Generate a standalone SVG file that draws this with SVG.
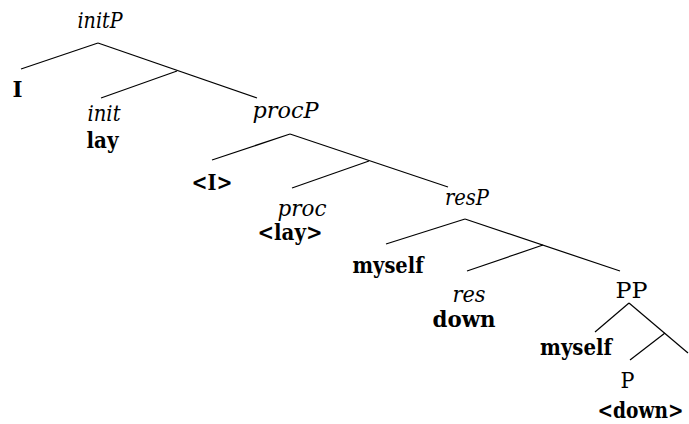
<svg xmlns="http://www.w3.org/2000/svg" width="689" height="424" viewBox="0 0 689 424">
<style>
text{font-family:'DejaVu Serif Condensed','DejaVu Serif',serif;font-size:23px;fill:#000;text-anchor:middle}
.i{font-style:italic}
.b{font-weight:bold}
#edges line{stroke:#000;stroke-width:1.2}
</style>
<rect width="689" height="424" fill="#fff"/>
<g id="edges">
<line x1="98" y1="43" x2="21" y2="69"/>
<line x1="98" y1="43" x2="257" y2="98"/>
<line x1="177" y1="71" x2="101" y2="98"/>
<line x1="290" y1="134" x2="212" y2="160"/>
<line x1="290" y1="134" x2="448" y2="187"/>
<line x1="369" y1="161" x2="292" y2="188"/>
<line x1="465" y1="219" x2="386" y2="244"/>
<line x1="465" y1="219" x2="620" y2="271"/>
<line x1="543" y1="245" x2="467" y2="271"/>
<line x1="629" y1="303" x2="595" y2="332"/>
<line x1="629" y1="303" x2="688" y2="353"/>
<line x1="665" y1="333" x2="630" y2="360"/>
</g>
<g id="initP"><text class="i" x="100" y="28" textLength="45" lengthAdjust="spacingAndGlyphs">initP</text></g>
<g id="I"><text class="b" x="17.5" y="97" textLength="10" lengthAdjust="spacingAndGlyphs">I</text></g>
<g id="init"><text class="i" x="104" y="121" textLength="33" lengthAdjust="spacingAndGlyphs">init</text><text class="b" x="102.5" y="148" textLength="32" lengthAdjust="spacingAndGlyphs">lay</text></g>
<g id="procP"><text class="i" x="285.5" y="118" textLength="66" lengthAdjust="spacingAndGlyphs">procP</text></g>
<g id="I2"><text class="b" x="212" y="190" textLength="41" lengthAdjust="spacingAndGlyphs">&lt;I&gt;</text></g>
<g id="proc"><text class="i" x="302" y="216" textLength="49" lengthAdjust="spacingAndGlyphs">proc</text><text class="b" x="290" y="240" textLength="65" lengthAdjust="spacingAndGlyphs">&lt;lay&gt;</text></g>
<g id="resP"><text class="i" x="467" y="205" textLength="44" lengthAdjust="spacingAndGlyphs">resP</text></g>
<g id="myself"><text class="b" x="388" y="273" textLength="71" lengthAdjust="spacingAndGlyphs">myself</text></g>
<g id="res"><text class="i" x="469" y="302" textLength="33" lengthAdjust="spacingAndGlyphs">res</text><text class="b" x="464" y="327" textLength="63" lengthAdjust="spacingAndGlyphs">down</text></g>
<g id="PP"><text x="631.5" y="298" textLength="32" lengthAdjust="spacingAndGlyphs">PP</text></g>
<g id="myself2"><text class="b" x="576" y="355" textLength="72" lengthAdjust="spacingAndGlyphs">myself</text></g>
<g id="P"><text x="627.5" y="388">P</text><text class="b" x="640.5" y="418" textLength="86" lengthAdjust="spacingAndGlyphs">&lt;down&gt;</text></g>
</svg>
